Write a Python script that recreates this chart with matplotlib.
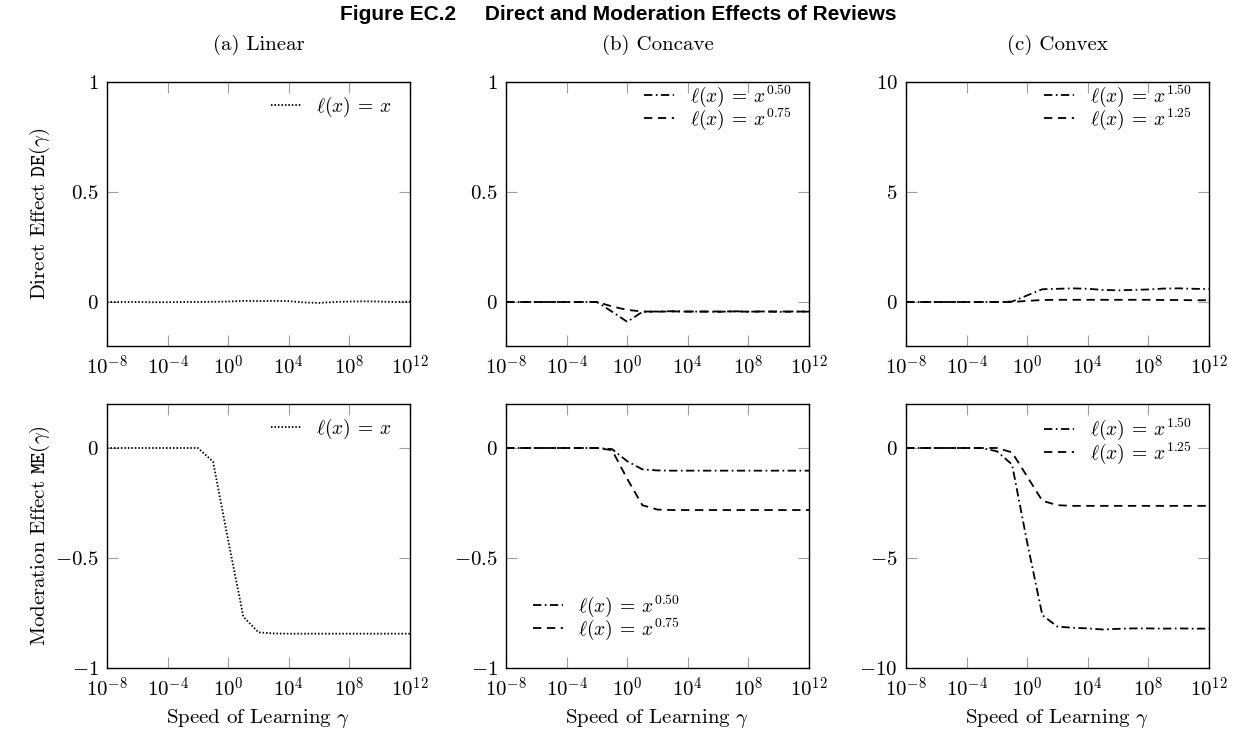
import matplotlib
matplotlib.use("Agg")
import matplotlib.pyplot as plt
import numpy as np

plt.rcParams['font.family'] = ['cmr10', 'DejaVu Serif']
plt.rcParams['mathtext.fontset'] = 'cm'
plt.rcParams['axes.formatter.use_mathtext'] = True
plt.rcParams['lines.scale_dashes'] = False

# ---- data: exponent of gamma (log10) ----
log_gamma = [-8, -7, -6, -5, -4, -3, -2, -1, 0, 1, 2, 3, 4, 5, 6, 7, 8, 9, 10, 11, 12]

# Direct effects
de_linear = [0, 0, 0, -0.001, -0.001, 0, 0, 0.001, 0.002, 0.005, 0.004, 0.005, 0.004,
             -0.002, -0.004, 0.0, 0.002, 0.003, 0.002, 0.0, 0.002]
de_conc_050 = [0, 0, 0, 0, 0, 0, 0, -0.044, -0.09, -0.045, -0.043, -0.042, -0.044,
               -0.043, -0.045, -0.042, -0.044, -0.043, -0.045, -0.043, -0.044]
de_conc_075 = [0, 0, 0, 0, 0, 0, 0, -0.02, -0.036, -0.043, -0.044, -0.043, -0.043,
               -0.044, -0.043, -0.043, -0.044, -0.043, -0.043, -0.044, -0.043]
de_conv_150 = [0, 0, 0, 0, 0, 0, 0, 0.02, 0.3, 0.58, 0.6, 0.62, 0.6, 0.55, 0.53,
               0.55, 0.57, 0.61, 0.62, 0.6, 0.59]
de_conv_125 = [0, 0, 0, 0, 0, 0, 0, 0, 0.05, 0.09, 0.1, 0.1, 0.1, 0.1, 0.1, 0.1,
               0.1, 0.09, 0.09, 0.08, 0.08]

# Moderation effects
me_linear = [0, 0, 0, 0, 0, 0, 0, -0.062, -0.42, -0.767, -0.838, -0.843, -0.844,
             -0.844, -0.844, -0.844, -0.844, -0.844, -0.844, -0.844, -0.844]
me_conc_050 = [0, 0, 0, 0, 0, 0, 0, -0.005, -0.06, -0.097, -0.102, -0.103, -0.103,
               -0.103, -0.103, -0.103, -0.103, -0.103, -0.103, -0.103, -0.103]
me_conc_075 = [0, 0, 0, 0, 0, 0, 0, -0.01, -0.14, -0.26, -0.28, -0.282, -0.282,
               -0.282, -0.282, -0.282, -0.282, -0.282, -0.282, -0.282, -0.282]
me_conv_150 = [0, 0, 0, 0, 0, 0, -0.15, -0.75, -4.3, -7.6, -8.12, -8.17, -8.2,
               -8.25, -8.22, -8.2, -8.2, -8.21, -8.2, -8.21, -8.21]
me_conv_125 = [0, 0, 0, 0, 0, 0, 0, -0.2, -1.3, -2.4, -2.6, -2.63, -2.63,
               -2.63, -2.63, -2.63, -2.63, -2.63, -2.63, -2.63, -2.63]

panel_titles = ['(a) Linear', '(b) Concave', '(c) Convex']
xtick_exp = [-8, -4, 0, 4, 8, 12]

gamma = 10.0 ** np.array(log_gamma, dtype=float)

W, H = 1237, 740
fig = plt.figure(figsize=(W / 100, H / 100), dpi=100)

lefts = [107, 506, 906]
aw = 303
top_row = (82, 346)
bot_row = (404, 668)

def make_ax(left, rows):
    t, b = rows
    return fig.add_axes([left / W, 1 - b / H, aw / W, (b - t) / H])

DOT = (0, (1.1, 1.4))
DASH = (0, (6, 4))
DASHDOT = (0, (6, 2.5, 1.2, 2.5))
LW = 1.3

tick_fs = 15
leg_fs = 14

def style(ax, ylim, yticks, yticklabels):
    ax.set_xscale('log')
    ax.set_xlim(1e-8, 1e12)
    ax.set_ylim(*ylim)
    ax.set_xticks([10.0 ** e for e in xtick_exp])
    ax.set_xticklabels([r'$10^{%d}$' % e for e in xtick_exp])
    ax.xaxis.set_minor_locator(matplotlib.ticker.NullLocator())
    ax.set_yticks(yticks)
    ax.set_yticklabels(yticklabels)
    ax.tick_params(axis='both', which='major', direction='in', length=8, width=0.8,
                   color='#a0a0a0', top=True, right=True, labelsize=tick_fs, pad=6)
    for s in ax.spines.values():
        s.set_linewidth(1.0)

def legend(ax, loc, bbox):
    ax.legend(loc=loc, bbox_to_anchor=bbox, frameon=False, fontsize=leg_fs,
              handlelength=1.55, handletextpad=0.8, labelspacing=-0.12,
              borderaxespad=0.0, borderpad=0.2)

def lab(expo=None):
    if expo is None:
        return r'$\ell(x)\:=\:x$'
    return r'$\ell(x)\:=\:x^{%s}$' % expo

UR2 = (0.955, 1.01)
UR1 = (0.955, 0.965)

# ---- top row: direct effect ----
ax = make_ax(lefts[0], top_row)
ax.plot(gamma, de_linear, color='black', lw=LW, linestyle=DOT, label=lab())
style(ax, (-0.2, 1), [0, 0.5, 1], ['$0$', '$0.5$', '$1$'])
legend(ax, 'upper right', UR1)
ax.set_ylabel(r'Direct Effect $\mathtt{DE}(\gamma)$', fontsize=tick_fs)
ax.yaxis.set_label_coords(-0.18, 0.5)

ax = make_ax(lefts[1], top_row)
ax.plot(gamma, de_conc_050, color='black', lw=LW, linestyle=DASHDOT, label=lab('0.50'))
ax.plot(gamma, de_conc_075, color='black', lw=LW, linestyle=DASH, label=lab('0.75'))
style(ax, (-0.2, 1), [0, 0.5, 1], ['$0$', '$0.5$', '$1$'])
legend(ax, 'upper right', UR2)

ax = make_ax(lefts[2], top_row)
ax.plot(gamma, de_conv_150, color='black', lw=LW, linestyle=DASHDOT, label=lab('1.50'))
ax.plot(gamma, de_conv_125, color='black', lw=LW, linestyle=DASH, label=lab('1.25'))
style(ax, (-2, 10), [0, 5, 10], ['$0$', '$5$', '$10$'])
legend(ax, 'upper right', UR2)

# ---- bottom row: moderation effect ----
ax = make_ax(lefts[0], bot_row)
ax.plot(gamma, me_linear, color='black', lw=LW, linestyle=DOT, label=lab())
style(ax, (-1, 0.2), [-1, -0.5, 0], ['$-1$', '$-0.5$', '$0$'])
legend(ax, 'upper right', UR1)
ax.set_ylabel(r'Moderation Effect $\mathtt{ME}(\gamma)$', fontsize=tick_fs)
ax.yaxis.set_label_coords(-0.18, 0.5)

ax = make_ax(lefts[1], bot_row)
ax.plot(gamma, me_conc_050, color='black', lw=LW, linestyle=DASHDOT, label=lab('0.50'))
ax.plot(gamma, me_conc_075, color='black', lw=LW, linestyle=DASH, label=lab('0.75'))
style(ax, (-1, 0.2), [-1, -0.5, 0], ['$-1$', '$-0.5$', '$0$'])
legend(ax, 'lower left', (0.075, 0.085))

ax = make_ax(lefts[2], bot_row)
ax.plot(gamma, me_conv_150, color='black', lw=LW, linestyle=DASHDOT, label=lab('1.50'))
ax.plot(gamma, me_conv_125, color='black', lw=LW, linestyle=DASH, label=lab('1.25'))
style(ax, (-10, 2), [-10, -5, 0], ['$-10$', '$-5$', '$0$'])
legend(ax, 'upper right', UR1)

# ---- texts ----
for i, left in enumerate(lefts):
    cx = (left + aw / 2) / W
    fig.text(cx, 1 - 45 / H, panel_titles[i], ha='center', va='center', fontsize=tick_fs)
    fig.text(cx, 1 - 718 / H, r'Speed of Learning $\gamma$', ha='center', va='center',
             fontsize=tick_fs)

fig.text(0.5, 1 - 14 / H, 'Figure EC.2     Direct and Moderation Effects of Reviews',
         ha='center', va='center', fontsize=15, fontweight='bold',
         family=['Liberation Sans', 'DejaVu Sans'])

fig.savefig('out.png', dpi=100)
